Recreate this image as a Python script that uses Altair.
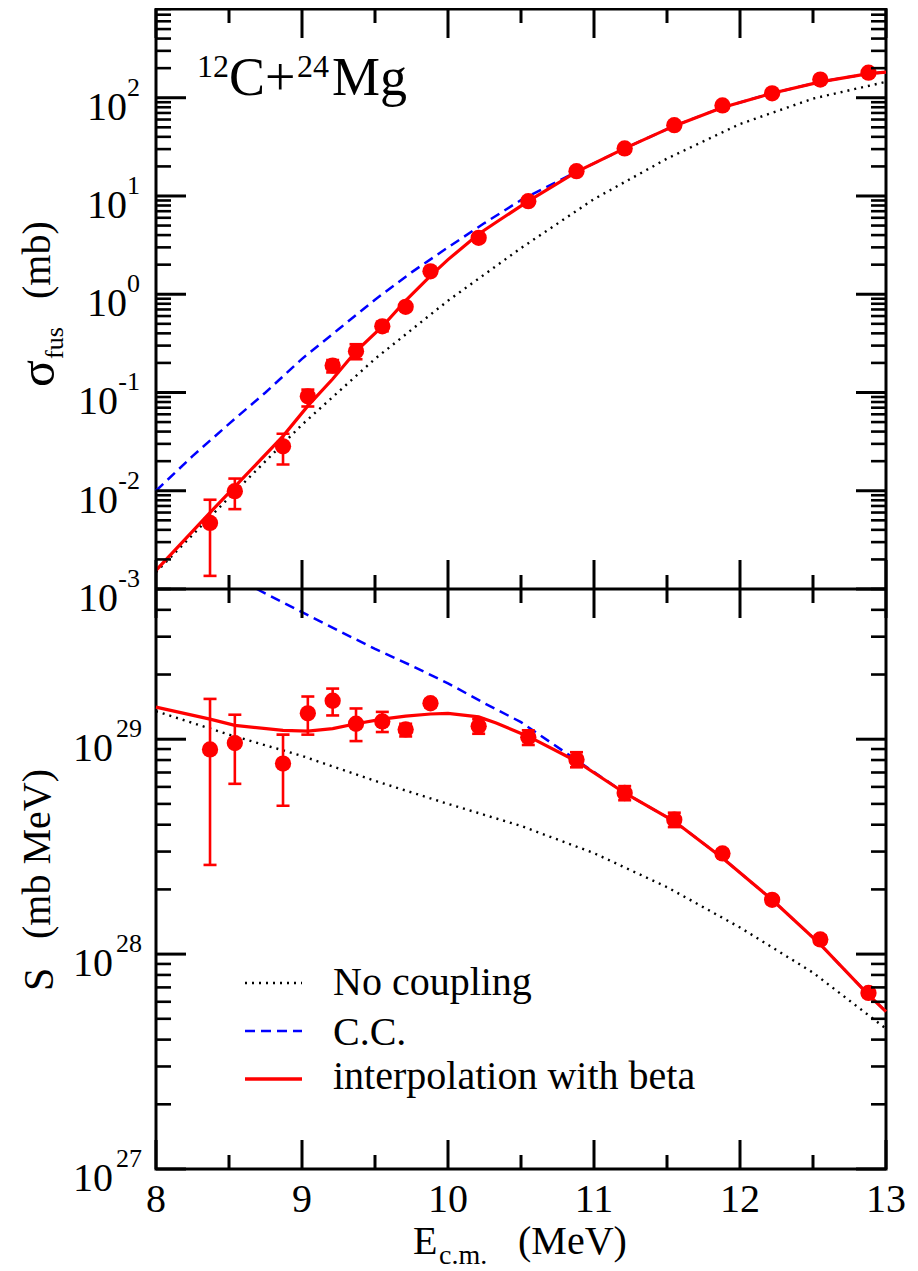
import altair as alt
import pandas as pd

# ---------------- data ----------------
E_pts = [8.37, 8.54, 8.87, 9.04, 9.21, 9.37, 9.55, 9.71, 9.88, 10.21, 10.55, 10.88,
         11.21, 11.55, 11.88, 12.22, 12.55, 12.88]
sig_pts = [4.7e-3, 9.9e-3, 2.83e-2, 9.14e-2, 0.188, 0.263, 0.472, 0.745, 1.71, 3.75, 8.85, 17.9,
           30.5, 52.6, 83.5, 111, 153, 180]
sig_lo = [1.36e-3, 6.5e-3, 1.85e-2, 7.2e-2, 0.16, 0.218, 0.42, 0.69, 1.64, 3.45, 8.2, 16.7,
          28.6, 49.5, 80, 107, 148, 175]
sig_hi = [8.1e-3, 1.33e-2, 3.8e-2, 0.107, 0.214, 0.31, 0.524, 0.79, 1.78, 4.05, 9.5, 19.1,
          32.4, 55.7, 87, 115, 158, 185]
S_pts = [8.96e28, 9.6e28, 7.7e28, 1.32e29, 1.51e29, 1.18e29, 1.21e29, 1.11e29, 1.47e29, 1.15e29,
         1.02e29, 8.04e28, 5.62e28, 4.22e28, 2.94e28, 1.79e28, 1.17e28, 6.6e27]
S_lo = [2.6e28, 6.2e28, 4.9e28, 1.05e29, 1.29e29, 0.98e29, 1.08e29, 1.03e29, 1.41e29, 1.06e29,
        0.94e29, 7.4e28, 5.2e28, 3.9e28, 2.82e28, 1.72e28, 1.12e28, 6.35e27]
S_hi = [1.54e29, 1.30e29, 1.05e29, 1.58e29, 1.72e29, 1.39e29, 1.34e29, 1.18e29, 1.53e29, 1.24e29,
        1.10e29, 8.7e28, 6.05e28, 4.55e28, 3.06e28, 1.86e28, 1.22e28, 6.85e27]

# interpolation with beta (red solid)
E_fit = [8.0, 8.37, 8.54, 8.87, 9.04, 9.21, 9.37, 9.55, 9.71, 9.88, 10.0, 10.21, 10.33, 10.55,
         10.88, 11.21, 11.55, 11.88, 12.22, 12.55, 12.88, 13.0]
sig_fit = [1.55e-3, 6.0e-3, 1.1e-2, 3.6e-2, 7.3e-2, 0.137, 0.263, 0.47, 0.86, 1.54, 2.25, 4.1, 5.4,
           8.85, 17.6, 30.5, 51.7, 79.7, 111, 145, 176, 182]
S_fit = [1.41e29, 1.24e29, 1.16e29, 1.10e29, 1.09e29, 1.12e29, 1.18e29, 1.24e29, 1.28e29, 1.31e29,
         1.32e29, 1.27e29, 1.19e29, 1.03e29, 7.9e28, 5.62e28, 4.15e28, 2.8e28, 1.79e28, 1.11e28,
         6.46e27, 5.4e27]

# no coupling (black dotted)
E_nc = [8.0, 8.5, 9.0, 9.5, 10.0, 10.5, 11.0, 11.5, 12.0, 12.5, 13.0]
sig_nc = [1.48e-3, 8.5e-3, 0.047, 0.22, 0.86, 2.95, 9.3, 24, 54, 98, 145]
S_nc = [1.35e29, 1.05e29, 8.36e28, 6.4e28, 5.0e28, 3.95e28, 2.95e28, 2.05e28, 1.33e28, 8.2e27, 4.5e27]

# C.C. (blue dashed)
E_cc_top = [8.0, 8.25, 8.5, 8.75, 9.0, 9.25, 9.5, 9.75, 10.0, 10.25, 10.5, 10.88, 11.21, 11.55,
            11.88, 12.22, 12.55, 12.88, 13.0]
sig_cc = [1.0e-2, 2.25e-2, 4.8e-2, 0.10, 0.22, 0.44, 0.88, 1.67, 3.0, 5.3, 9.1, 17.6, 30.5, 51.7,
          79.7, 111, 145, 176, 182]
E_cc_bot = [8.69, 9.0, 9.25, 9.5, 9.75, 10.0, 10.25, 10.5, 10.88, 11.21, 11.55, 11.88, 12.22,
            12.55, 12.88, 13.0]
S_cc = [5.0e29, 3.9e29, 3.2e29, 2.63e29, 2.2e29, 1.82e29, 1.47e29, 1.2e29, 8.0e28, 5.62e28,
        4.15e28, 2.8e28, 1.79e28, 1.11e28, 6.46e27, 5.4e27]

# axes / ticks / labels
x_major = [8, 9, 10, 11, 12, 13]
x_minor = [8.5, 9.5, 10.5, 11.5, 12.5]
x_labels = ["8", "9", "10", "11", "12", "13"]
top_major = [1e-3, 1e-2, 1e-1, 1, 10, 100]
top_exp = ["-3", "-2", "-1", "0", "1", "2"]
top_minor = [m * 10.0 ** d for d in range(-3, 3) for m in range(2, 10) if m * 10.0 ** d <= 800]
bot_major = [1e27, 1e28, 1e29]
bot_exp = ["27", "28", "29"]
bot_minor = [m * 10.0 ** d for d in range(27, 30) for m in range(2, 10) if m * 10.0 ** d <= 5e29]
legend_labels = ["No coupling", "C.C.", "interpolation with beta"]

FONT = "Liberation Serif"
RED, BLUE = "#ff0000", "#0000ff"
W, H = 730, 1160

xs = alt.Scale(domain=[8, 13], nice=False, zero=False)
ys_top = alt.Scale(type="log", domain=[1e-3, 800], range=[580, 0], nice=False)
ys_bot = alt.Scale(type="log", domain=[1e27, 5e29], range=[1160, 580], nice=False)

pts = pd.DataFrame({"E": E_pts, "sig": sig_pts, "slo": sig_lo, "shi": sig_hi,
                    "S": S_pts, "Slo": S_lo, "Shi": S_hi})
fit = pd.DataFrame({"E": E_fit, "sig": sig_fit, "S": S_fit})
nc = pd.DataFrame({"E": E_nc, "sig": sig_nc, "S": S_nc})
cct = pd.DataFrame({"E": E_cc_top, "sig": sig_cc})
ccb = pd.DataFrame({"E": E_cc_bot, "S": S_cc})
one = pd.DataFrame({"k": [0]})


def X(f="E"):
    return alt.X(f"{f}:Q", scale=xs, axis=None)


def panel(ycol, lo, hi, ys, ncdf, ccdf, majors, minors, exps, pos_x10, neg_x10, exp_x):
    Y = lambda f: alt.Y(f"{f}:Q", scale=ys, axis=None)
    dotted = alt.Chart(ncdf).mark_line(color="black", strokeWidth=2.4, strokeDash=[2, 5]).encode(
        x=X(), y=Y(ycol))
    dashed = alt.Chart(ccdf).mark_line(color=BLUE, strokeWidth=2.5, strokeDash=[10, 6]).encode(
        x=X(), y=Y(ycol))
    solid = alt.Chart(fit).mark_line(color=RED, strokeWidth=3.2).encode(x=X(), y=Y(ycol))
    err = alt.Chart(pts).mark_rule(color=RED, strokeWidth=2.6).encode(
        x=X(), y=Y(lo), y2=alt.Y2(f"{hi}:Q"))
    cap_lo = alt.Chart(pts).mark_tick(color=RED, orient="horizontal", size=13, thickness=2.6,
                                      opacity=1).encode(x=X(), y=Y(lo))
    cap_hi = alt.Chart(pts).mark_tick(color=RED, orient="horizontal", size=13, thickness=2.6,
                                      opacity=1).encode(x=X(), y=Y(hi))
    dots = alt.Chart(pts).mark_circle(color=RED, size=265, opacity=1).encode(x=X(), y=Y(ycol))

    mj = pd.DataFrame({"v": majors, "e": exps})
    mn = pd.DataFrame({"v": minors})
    tl = alt.Chart(mj).mark_rule(color="black", strokeWidth=3).encode(
        y=Y("v"), x=alt.value(0), x2=alt.value(30))
    tr = alt.Chart(mj).mark_rule(color="black", strokeWidth=3).encode(
        y=Y("v"), x=alt.value(W - 30), x2=alt.value(W))
    ml = alt.Chart(mn).mark_rule(color="black", strokeWidth=2.6).encode(
        y=Y("v"), x=alt.value(0), x2=alt.value(15))
    mr = alt.Chart(mn).mark_rule(color="black", strokeWidth=2.6).encode(
        y=Y("v"), x=alt.value(W - 15), x2=alt.value(W))

    ten_pos = alt.Chart(mj).transform_filter("indexof(datum.e, '-') < 0").mark_text(
        text="10", font=FONT, fontSize=40, align="right", baseline="alphabetic", dy=22,
        color="black").encode(y=Y("v"), x=alt.value(pos_x10))
    ten_neg = alt.Chart(mj).transform_filter("indexof(datum.e, '-') >= 0").mark_text(
        text="10", font=FONT, fontSize=40, align="right", baseline="alphabetic", dy=22,
        color="black").encode(y=Y("v"), x=alt.value(neg_x10))
    ex = alt.Chart(mj).mark_text(font=FONT, fontSize=26, align="right", baseline="alphabetic",
                                 dy=-2, color="black").encode(
        y=Y("v"), x=alt.value(exp_x), text="e:N")
    return alt.layer(dotted, dashed, solid, err, cap_lo, cap_hi, dots,
                     tl, tr, ml, mr, ten_pos, ten_neg, ex)


top = panel("sig", "slo", "shi", ys_top, nc, cct, top_major, top_minor, top_exp, -29, -38, -16)
bottom = panel("S", "Slo", "Shi", ys_bot, nc, ccb, bot_major, bot_minor, bot_exp, -43, -43, -14)

# x ticks (inside, on every horizontal border)
xmj = pd.DataFrame({"v": x_major, "lab": x_labels})
xmn = pd.DataFrame({"v": x_minor})
xt = []
for (a, b) in [(0, 29), (551, 609), (H - 29, H)]:
    xt.append(alt.Chart(xmj).mark_rule(color="black", strokeWidth=3).encode(
        x=X("v"), y=alt.value(a), y2=alt.value(b)))
for (a, b) in [(0, 14), (566, 594), (H - 14, H)]:
    xt.append(alt.Chart(xmn).mark_rule(color="black", strokeWidth=3).encode(
        x=X("v"), y=alt.value(a), y2=alt.value(b)))
xlab = alt.Chart(xmj).mark_text(font=FONT, fontSize=40, align="center", baseline="alphabetic",
                                color="black").encode(x=X("v"), y=alt.value(1203), text="lab:N")
midline = alt.Chart(one).mark_rule(color="black", strokeWidth=3).encode(
    x=alt.value(0), x2=alt.value(W), y=alt.value(580))


def txt(s, x, y, size, align="left", angle=None, **kw):
    props = dict(font=FONT, fontSize=size, align=align, baseline="alphabetic", color="black")
    if angle is not None:
        props["angle"] = angle
    props.update(kw)
    return alt.Chart(pd.DataFrame({"t": [s]})).mark_text(**props).encode(
        text="t:N", x=alt.value(x), y=alt.value(y))


texts = [
    # panel label 12C+24Mg
    txt("12", 41, 68, 32), txt("C+", 73, 86, 54), txt("24", 141, 68, 32), txt("Mg", 176, 86, 54),
    # y titles (rotated)
    txt("σ", -102, 378, 50, angle=270), txt("fus", -93, 350, 26, angle=270),
    txt("(mb)", -106, 290, 40, angle=270),
    txt("S", -103, 982, 42, angle=270), txt("(mb MeV)", -106, 930, 40, angle=270),
    # x title
    txt("E", 257, 1245, 40), txt("c.m.", 283, 1255, 28), txt("(MeV)", 362, 1245, 40),
]

# legend
leg = [
    alt.Chart(one).mark_rule(color="black", strokeWidth=2.4, strokeDash=[2, 5]).encode(
        x=alt.value(89), x2=alt.value(146), y=alt.value(974)),
    alt.Chart(one).mark_rule(color=BLUE, strokeWidth=2.6, strokeDash=[10, 6]).encode(
        x=alt.value(89), x2=alt.value(146), y=alt.value(1022)),
    alt.Chart(one).mark_rule(color=RED, strokeWidth=3.5).encode(
        x=alt.value(89), x2=alt.value(146), y=alt.value(1070)),
    txt(legend_labels[0], 177, 986, 40),
    txt(legend_labels[1], 177, 1036, 40),
    txt(legend_labels[2], 177, 1080, 40),
]

common = alt.layer(*xt, xlab, midline, *texts, *leg)

chart = alt.layer(top, bottom, common).resolve_scale(y="independent").properties(
    width=W, height=H,
    autosize=alt.AutoSizeParams(type="none"),
    padding={"left": 148, "top": 1, "right": 24, "bottom": 101},
    background="white",
).configure_view(stroke="black", strokeWidth=3)

chart.save("out.html", embed_options={"renderer": "svg", "actions": False})
